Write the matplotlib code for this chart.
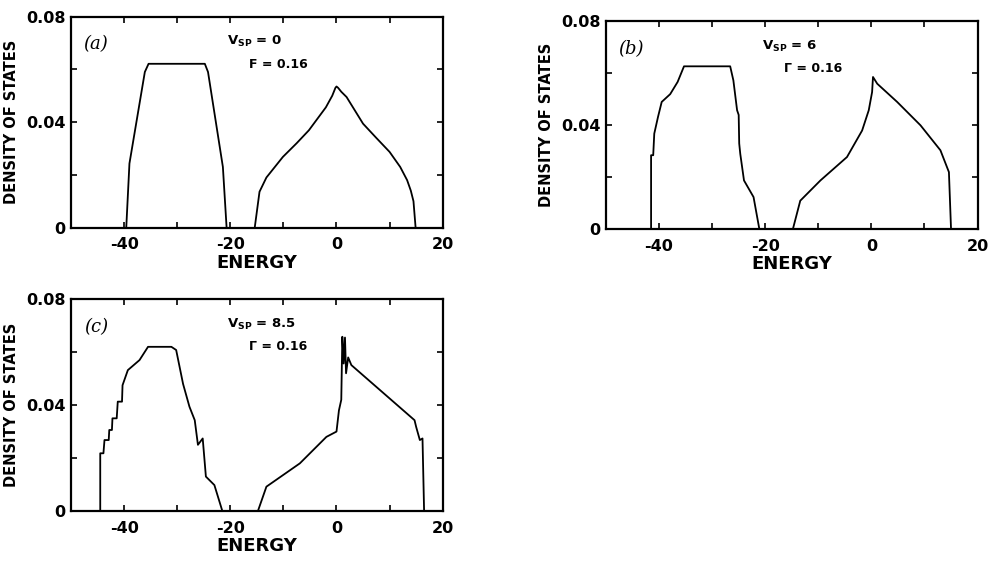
import matplotlib.pyplot as plt

plt.rcParams['axes.unicode_minus'] = False

# panel (a): V_sp = 0
ea_lo = [-39.6, -39.0, -36.1, -35.4, -24.8, -24.2, -21.4, -20.7]
da_lo = [0.0, 0.0243, 0.059, 0.0621, 0.0621, 0.059, 0.023, 0.0]
ea_hi = [-15.4, -14.5, -13.2, -10.1, -7.5, -5.2, -2.0, -0.8, -0.2, 0.0, 0.3, 0.9, 1.9, 5.0, 7.5, 10.0, 12.0, 13.3, 14.0, 14.5, 14.9]
da_hi = [0.0, 0.0136, 0.019, 0.0268, 0.032, 0.0369, 0.0456, 0.050, 0.053, 0.0535, 0.053, 0.0515, 0.0495, 0.0394, 0.034, 0.0287, 0.023, 0.018, 0.014, 0.010, 0.0]

# panel (b): V_sp = 6
eb_lo = [-41.5, -41.5, -41.1, -40.9, -40.2, -39.5, -37.9, -36.5, -35.3, -26.6, -26.0, -25.3, -25.0, -24.9, -24.7, -24.0, -22.2, -21.1]
db_lo = [0.0, 0.0285, 0.0285, 0.0368, 0.0432, 0.049, 0.052, 0.0567, 0.0627, 0.0627, 0.0573, 0.0458, 0.044, 0.033, 0.029, 0.0188, 0.0124, 0.0]
eb_hi = [-14.8, -13.4, -9.6, -4.6, -1.75, -0.5, 0.13, 0.3, 1.1, 4.85, 9.25, 13.0, 14.6, 15.0]
db_hi = [0.0, 0.011, 0.0188, 0.0278, 0.038, 0.0458, 0.0528, 0.0586, 0.056, 0.049, 0.040, 0.0304, 0.022, 0.0]

# panel (c): V_sp = 8.5
ec_lo = [-44.5, -44.5, -43.9, -43.7, -42.9, -42.8, -42.3, -42.2, -41.4, -41.2, -40.4, -40.3, -39.3, -37.1, -35.5, -31.1, -30.2, -28.9, -27.7, -26.7, -26.1, -25.2, -24.6, -23.0, -21.5]
dc_lo = [0.0, 0.0218, 0.0218, 0.0268, 0.0268, 0.0306, 0.0306, 0.035, 0.035, 0.0413, 0.0413, 0.0475, 0.0532, 0.057, 0.062, 0.062, 0.0608, 0.048, 0.0394, 0.0343, 0.025, 0.0274, 0.013, 0.0098, 0.0]
ec_hi = [-14.8, -13.2, -6.9, -1.9, 0.0, 0.46, 0.9, 1.1, 1.35, 1.6, 1.8, 2.2, 2.8, 14.7, 15.0, 15.7, 16.2, 16.5]
dc_hi = [0.0, 0.0092, 0.018, 0.028, 0.030, 0.038, 0.042, 0.0658, 0.0557, 0.0655, 0.052, 0.058, 0.0551, 0.0343, 0.0318, 0.0268, 0.0274, 0.0]

panels = [
    ("(a)", "0", "F", [(ea_lo, da_lo), (ea_hi, da_hi)], [0.0714, 0.595, 0.3735, 0.3755]),
    ("(b)", "6", "\u0393", [(eb_lo, db_lo), (eb_hi, db_hi)], [0.609, 0.592, 0.3735, 0.370]),
    ("(c)", "8.5", "\u0393", [(ec_lo, dc_lo), (ec_hi, dc_hi)], [0.0714, 0.0907, 0.3735, 0.377]),
]

fig = plt.figure(figsize=(9.95, 5.62), dpi=100)

for tag, vsp, gam, bands, rect in panels:
    ax = fig.add_axes(rect)
    for e, d in bands:
        ax.plot(e, d, color="black", lw=1.3)
    ax.set_xlim(-50, 20)
    ax.set_ylim(0, 0.08)
    ax.set_xticks([-40, -20, 0, 20])
    ax.set_xticks(range(-50, 21, 10), minor=True)
    ax.set_yticks([0, 0.04, 0.08])
    ax.set_yticks([0.02, 0.06], minor=True)
    ax.set_yticklabels(["0", "0.04", "0.08"])
    ax.tick_params(which="both", direction="in", top=True, right=True, length=4, width=1.2)
    ax.tick_params(axis="x", labelsize=11.5, pad=7)
    ax.tick_params(axis="y", labelsize=11.5, pad=4)
    for lab in ax.get_xticklabels() + ax.get_yticklabels():
        lab.set_fontweight("bold")
    for sp in ax.spines.values():
        sp.set_linewidth(1.6)
    ax.set_xlabel("ENERGY", fontsize=13, fontweight="bold", labelpad=1)
    ax.set_ylabel("DENSITY OF STATES", fontsize=10.5, fontweight="bold", labelpad=5)
    ax.text(-45.3, 0.0695, tag, fontsize=13, family="DejaVu Serif", style="italic", ha="center", va="center")
    ax.text(-20.6, 0.0705, r"$\mathbf{V_{SP}}$ = " + vsp, fontsize=9.5, fontweight="bold", ha="left", va="center")
    ax.text(-16.5, 0.062, gam + " = 0.16", fontsize=9, fontweight="bold", ha="left", va="center")

fig.savefig("out.png", dpi=100)
